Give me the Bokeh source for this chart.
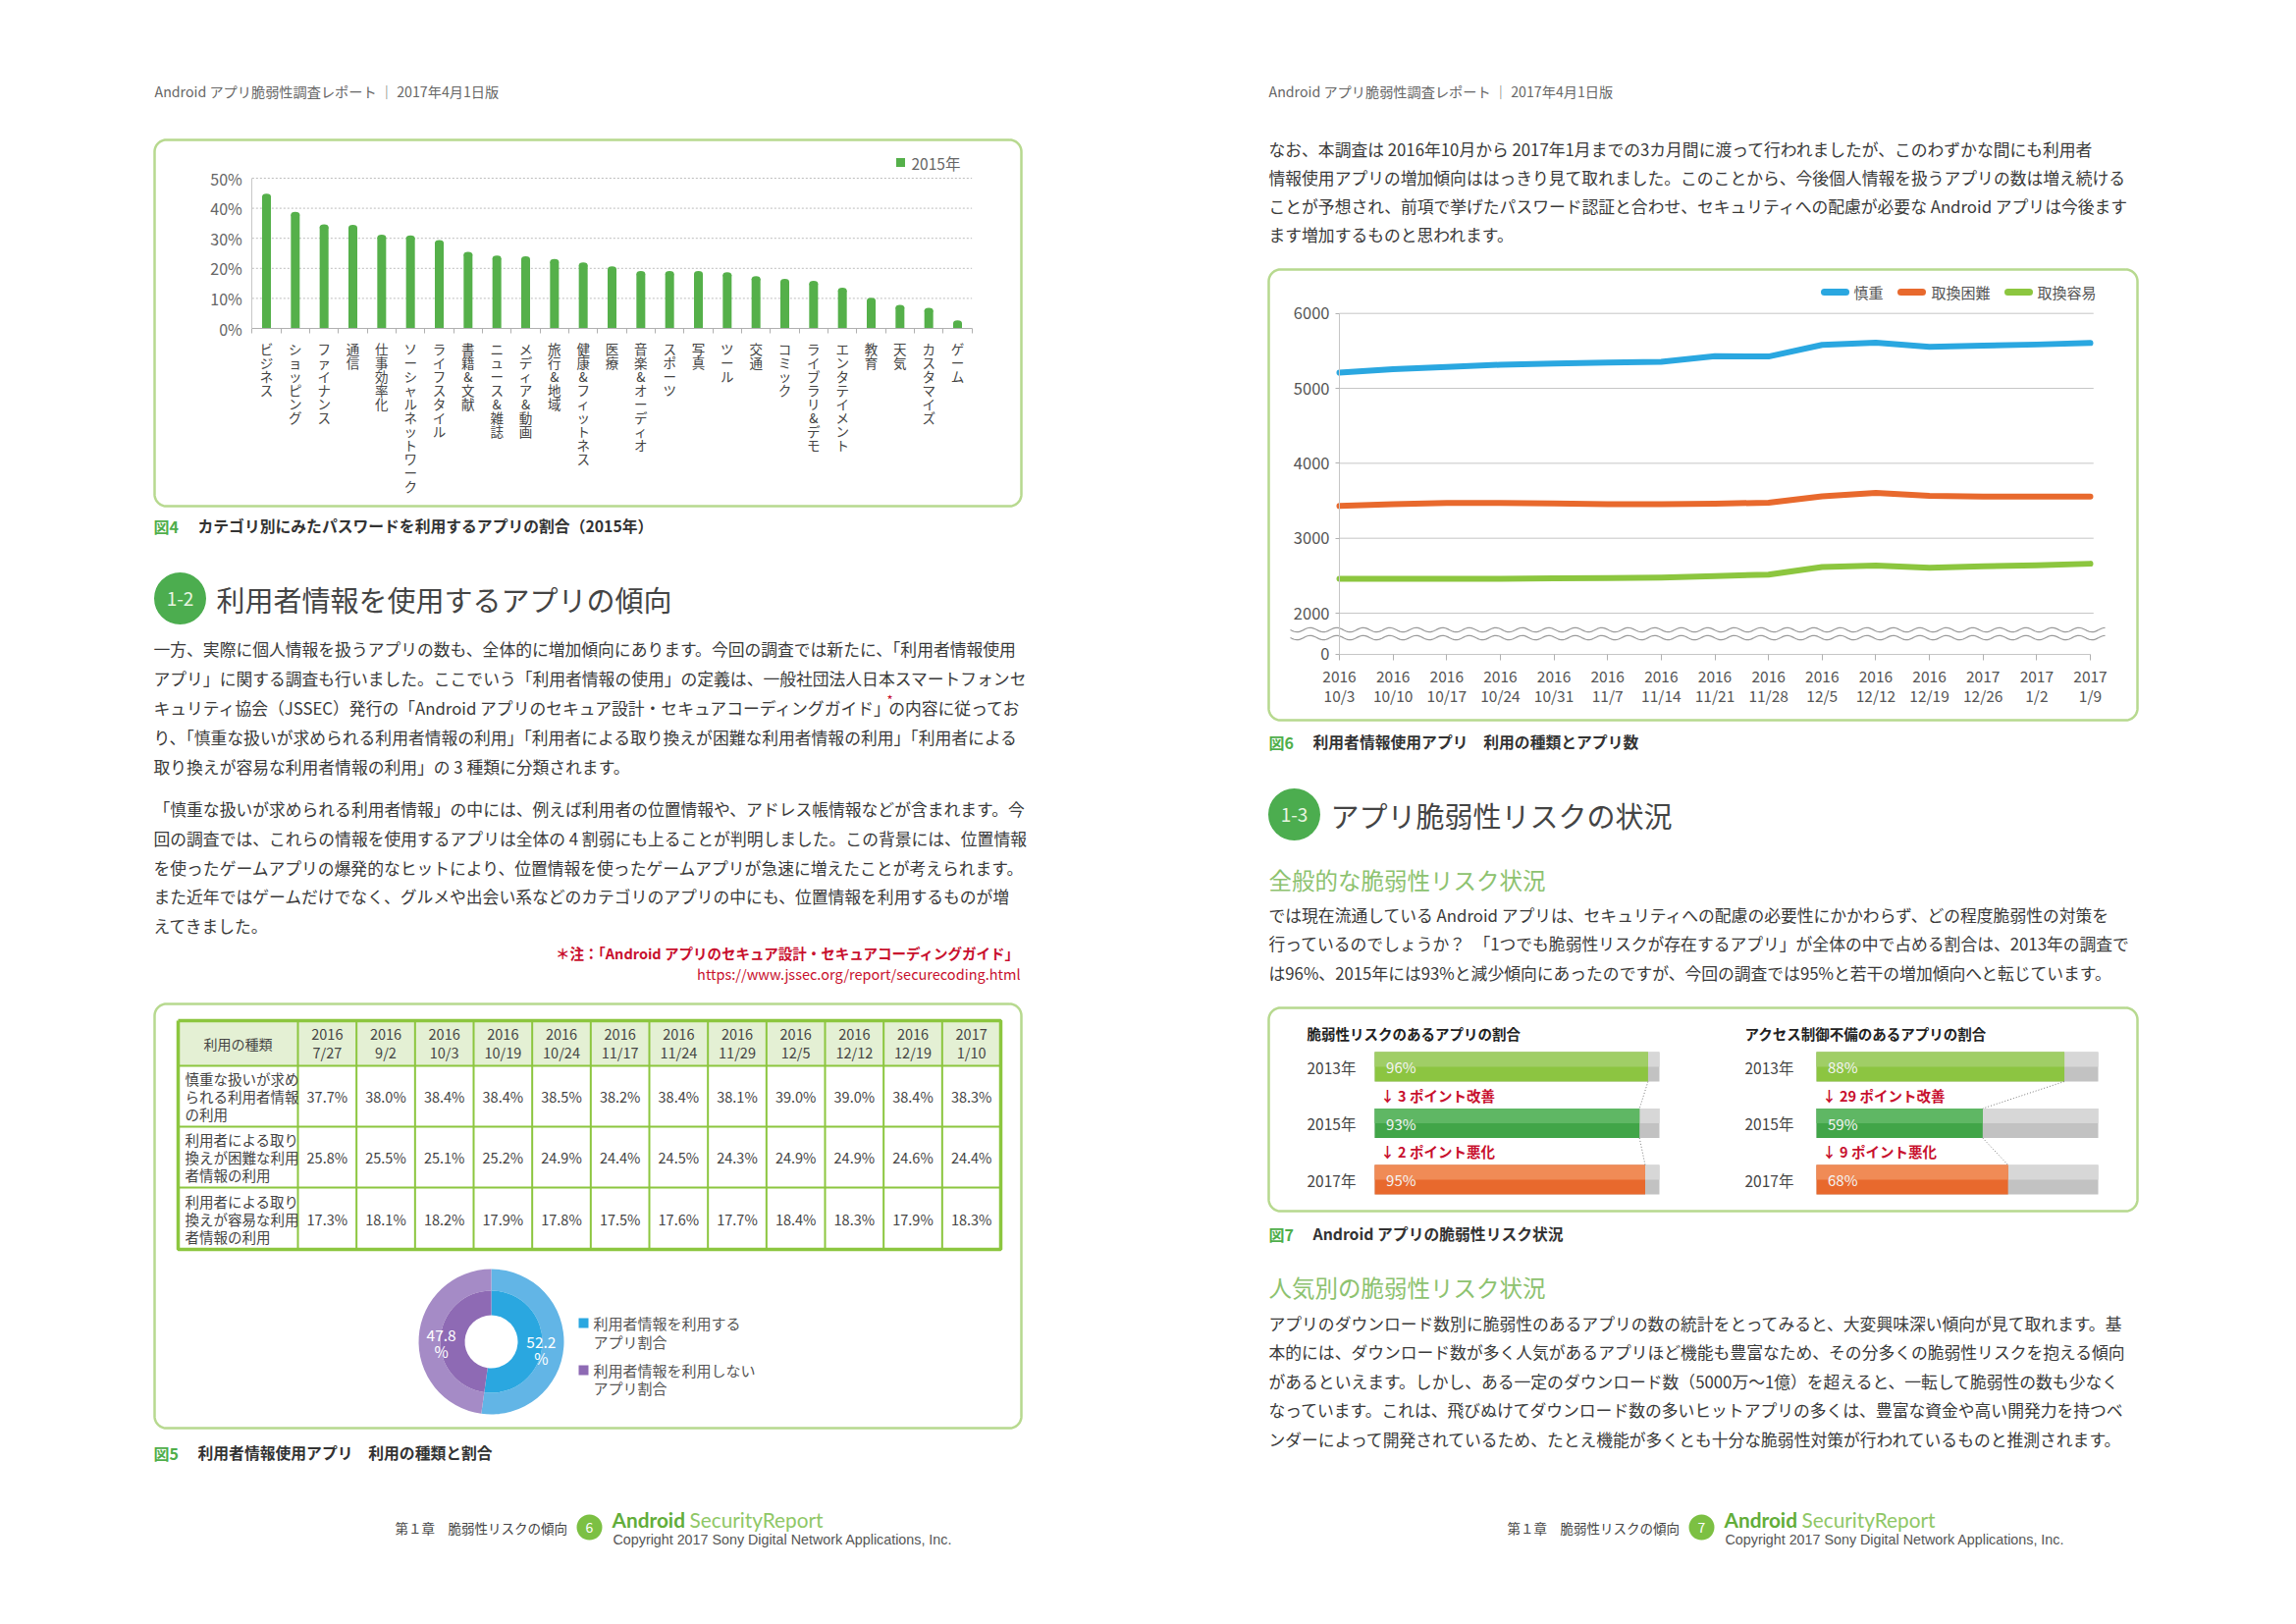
import numpy as np
from bokeh.plotting import figure
from bokeh.models import Range1d, LinearAxis, FixedTicker
from bokeh.core.properties import value
from bokeh.embed import file_html
from bokeh.resources import INLINE

# ---------------- data ----------------
categories = ["ビジネス", "ショッピング", "ファイナンス", "通信", "仕事効率化",
              "ソーシャルネットワーク", "ライフスタイル", "書籍&文献", "ニュース&雑誌",
              "メディア&動画", "旅行&地域", "健康&フィットネス", "医療", "音楽&オーディオ",
              "スポーツ", "写真", "ツール", "交通", "コミック", "ライブラリ&デモ",
              "エンタテイメント", "教育", "天気", "カスタマイズ", "ゲーム"]
password_2015 = [43.9, 37.8, 33.7, 33.5, 30.2, 30.0, 28.4, 24.5, 23.3, 23.0, 22.1, 21.0,
                 19.7, 18.1, 18.1, 18.1, 17.7, 16.4, 15.5, 14.9, 12.6, 9.2, 6.9, 5.9, 1.7]
bar_ticks = [0, 10, 20, 30, 40, 50]

week_years = ["2016"] * 12 + ["2017"] * 3
week_dates = ["10/3", "10/10", "10/17", "10/24", "10/31", "11/7", "11/14", "11/21",
              "11/28", "12/5", "12/12", "12/19", "12/26", "1/2", "1/9"]
apps_sensitive = [5210, 5255, 5285, 5315, 5330, 5345, 5355, 5430, 5425, 5580, 5610, 5555, 5570, 5585, 5605]
apps_hard = [3430, 3455, 3470, 3470, 3465, 3455, 3455, 3460, 3475, 3560, 3605, 3565, 3555, 3555, 3555]
apps_easy = [2460, 2460, 2460, 2460, 2465, 2470, 2475, 2495, 2515, 2615, 2635, 2605, 2625, 2640, 2660]
line_ticks = [2000, 3000, 4000, 5000, 6000]
line_names = ["慎重", "取換困難", "取換容易"]

table_years = ["2016"] * 11 + ["2017"]
table_dates = ["7/27", "9/2", "10/3", "10/19", "10/24", "11/17", "11/24", "11/29", "12/5", "12/12", "12/19", "1/10"]
table_rows = [["慎重な扱いが求め", "られる利用者情報", "の利用"],
              ["利用者による取り", "換えが困難な利用", "者情報の利用"],
              ["利用者による取り", "換えが容易な利用", "者情報の利用"]]
share_sensitive = [37.7, 38.0, 38.4, 38.4, 38.5, 38.2, 38.4, 38.1, 39.0, 39.0, 38.4, 38.3]
share_hard = [25.8, 25.5, 25.1, 25.2, 24.9, 24.4, 24.5, 24.3, 24.9, 24.9, 24.6, 24.4]
share_easy = [17.3, 18.1, 18.2, 17.9, 17.8, 17.5, 17.6, 17.7, 18.4, 18.3, 17.9, 18.3]

donut_labels = [["利用者情報を利用する", "アプリ割合"], ["利用者情報を利用しない", "アプリ割合"]]
donut_values = [52.2, 47.8]

risk_years = ["2013年", "2015年", "2017年"]
risk_vuln = [96, 93, 95]
risk_access = [88, 59, 68]

# ---------------- styles ----------------
JP = "Noto Sans CJK JP"
INK = "#3a3a3a"
BOX = "#b7d98f"
GREEN = "#4fae4a"
LGREEN = "#8dc26f"
RED = "#c8102e"
BLUE = "#2aa7e0"
ORANGE = "#e8692d"
LIME = "#8cc63f"

W, H = 2323, 1638
OX, OY = 2, 2
p = figure(width=W, height=H, output_backend="svg", toolbar_location=None,
           x_range=Range1d(OX, OX + W), y_range=Range1d(OY + H, OY),
           x_axis_location=None, y_axis_location=None, min_border=0)
p.grid.visible = False
p.outline_line_color = None
p.background_fill_color = "white"
p.border_fill_color = "white"


def xr(v0, v1, X0, X1):
    k = (v1 - v0) / (X1 - X0)
    return Range1d(start=v0 + (OX - X0) * k, end=v0 + (OX + W - X0) * k)


def yr(v0, v1, Y0, Y1):
    k = (v1 - v0) / (Y1 - Y0)
    return Range1d(start=v0 + (OY + H - Y0) * k, end=v0 + (OY - Y0) * k)


def T(x, y, text, size=16.8, color=INK, align="left", baseline="middle", bold=False, font=JP, **kw):
    if isinstance(text, str):
        x, y, text = [x], [y], [text]
    else:
        n = len(text)
        x = list(x) if isinstance(x, (list, tuple, np.ndarray)) else [x] * n
        y = list(y) if isinstance(y, (list, tuple, np.ndarray)) else [y] * n
    p.text(x=x, y=y, text=list(text), text_font=value(font), text_font_size=f"{size}px",
           text_color=color, text_align=align, text_baseline=baseline,
           text_font_style="bold" if bold else "normal", **kw)


def rbox(x0, y0, x1, y1, r=12, color=BOX, lw=2.5):
    t = np.linspace(0, np.pi / 2, 14)
    xs, ys = [], []
    for cx, cy, a0 in [(x1 - r, y0 + r, -np.pi / 2), (x1 - r, y1 - r, 0.0),
                       (x0 + r, y1 - r, np.pi / 2), (x0 + r, y0 + r, np.pi)]:
        a = a0 + t
        xs += list(cx + r * np.cos(a))
        ys += list(cy + r * np.sin(a))
    xs.append(xs[0])
    ys.append(ys[0])
    p.line(xs, ys, line_color=color, line_width=lw)


def caption(x, y, num, text, tx):
    T(x, y, num, 16, GREEN, bold=True)
    T(tx, y, text, 15.8, "#333333", bold=True)


def section(cx, cy, num, title, tx):
    p.scatter(x=[cx], y=[cy], size=53, marker="circle", fill_color="#4cad4f", line_color=None)
    T(cx, cy, num, 19, "#e8f5e0", align="center")
    T(tx, cy, title, 29, "#444444")


def paragraph(x, ys, lines, size=16.8):
    T(x, ys, lines, size, INK)


p.extra_x_ranges = {
    "barx": xr(0, len(categories) - 1, 273, 977),
    "linex": xr(0, len(week_dates) - 1, 1366, 2131),
    "riskL": xr(0, 100, 1402, 1692),
    "riskR": xr(0, 100, 1852, 2139),
}
ZERO_AT = 1454
p.extra_y_ranges = {
    "bary": yr(0, 50, 336, 183),
    "liney": yr(2000, 6000, 626, 320.7),
    "risky": yr(0, 2, 1088, 1203),
    "donuty": yr(0, 100, 1368, 1268),
}

# ================= LEFT PAGE =================
T(159, 94, "Android アプリ脆弱性調査レポート ｜ 2017年4月1日版", 14.2, "#666666")

# ---- Fig 4: bar chart ----
rbox(159, 144, 1042, 517)
n = len(categories)
bx = list(range(n))
p.segment(x0=[-0.5] * 5, x1=[n - 0.5] * 5, y0=bar_ticks[1:], y1=bar_ticks[1:],
          x_range_name="barx", y_range_name="bary", line_color="#bdbdbd", line_dash="2 2", line_width=1)
bw = 9 / 29.3
p.vbar(x=bx, top=password_2015, bottom=0, width=bw, fill_color="#55b04a", line_color=None,
       x_range_name="barx", y_range_name="bary")
p.ellipse(x=bx, y=password_2015, width=9, height=6, width_units="screen", height_units="screen",
          fill_color="#55b04a", line_color=None, x_range_name="barx", y_range_name="bary")
ax = LinearAxis(x_range_name="barx", y_range_name="bary", fixed_location=0, bounds=(-0.5, n - 0.5),
                ticker=FixedTicker(ticks=bx, minor_ticks=[i - 0.5 for i in range(n + 1)]),
                major_label_overrides={i: "\n".join(c) for i, c in enumerate(categories)},
                axis_line_color="#b0b0b0", major_tick_line_color=None, major_tick_out=0, major_tick_in=0,
                minor_tick_line_color="#b0b0b0", minor_tick_out=5, minor_tick_in=0,
                major_label_standoff=5, major_label_text_font=JP, major_label_text_font_size="13.5px",
                major_label_text_color="#444444", major_label_text_line_height=0.7)
p.add_layout(ax, "below")
ay = LinearAxis(x_range_name="barx", y_range_name="bary", fixed_location=-0.5, bounds=(0, 50),
                ticker=FixedTicker(ticks=bar_ticks),
                major_label_overrides={t: f"{t}%" for t in bar_ticks},
                axis_line_color="#c8c8c8", major_tick_line_color=None, major_tick_out=0, major_tick_in=0,
                minor_tick_line_color=None, major_label_standoff=10, major_label_text_font=JP,
                major_label_text_font_size="16px", major_label_text_color="#666666")
p.add_layout(ay, "left")
p.scatter(x=[919], y=[167], size=9, marker="square", fill_color="#55b04a", line_color=None)
T(930, 167, "2015年", 15.5, "#666666")
caption(158, 537, "図4", "カテゴリ別にみたパスワードを利用するアプリの割合（2015年）", 203)

# ---- section 1-2 ----
section(185, 611, "1-2", "利用者情報を使用するアプリの傾向", 222)
paragraph(158, [662, 692, 722, 752, 782], [
    "一方、実際に個人情報を扱うアプリの数も、全体的に増加傾向にあります。今回の調査では新たに、「利用者情報使用",
    "アプリ」に関する調査も行いました。ここでいう「利用者情報の使用」の定義は、一般社団法人日本スマートフォンセ",
    "キュリティ協会（JSSEC）発行の「Android アプリのセキュア設計・セキュアコーディングガイド」",
    "り、「慎重な扱いが求められる利用者情報の利用」「利用者による取り換えが困難な利用者情報の利用」「利用者による",
    "取り換えが容易な利用者情報の利用」の 3 種類に分類されます。"])
T(905, 714, "*", 13, RED)
T(1041, 722, "の内容に従ってお", 16.8, INK, align="right")
paragraph(158, [825, 855, 885, 914, 944], [
    "「慎重な扱いが求められる利用者情報」の中には、例えば利用者の位置情報や、アドレス帳情報などが含まれます。今",
    "回の調査では、これらの情報を使用するアプリは全体の 4 割弱にも上ることが判明しました。この背景には、位置情報",
    "を使ったゲームアプリの爆発的なヒットにより、位置情報を使ったゲームアプリが急速に増えたことが考えられます。",
    "また近年ではゲームだけでなく、グルメや出会い系などのカテゴリのアプリの中にも、位置情報を利用するものが増",
    "えてきました。"])
T(1041, 972, "＊注：「Android アプリのセキュア設計・セキュアコーディングガイド」", 14.5, RED, align="right", bold=True)
T(1041, 993, "https://www.jssec.org/report/securecoding.html", 14.5, RED, align="right")

# ---- Fig 5: table + donut ----
rbox(159, 1024, 1042, 1456)
TX0, TC1, TX1 = 183, 305, 1021
TY = [1041, 1087, 1149, 1211, 1274]
nc = len(table_dates)
cw = (TX1 - TC1) / nc
p.quad(left=[TX0], right=[TX1], top=[TY[0]], bottom=[TY[1]], fill_color="#e4f0d4", line_color=None)
vx = [TC1 + cw * k for k in range(nc)]
p.segment(x0=vx, x1=vx, y0=[TY[0]] * nc, y1=[TY[-1]] * nc, line_color=LIME, line_width=2)
p.segment(x0=[TX0] * 3, x1=[TX1] * 3, y0=TY[1:4], y1=TY[1:4], line_color=LIME, line_width=2)
p.line([TX0, TX1, TX1, TX0, TX0], [TY[0], TY[0], TY[-1], TY[-1], TY[0]], line_color=LIME, line_width=3.5)
centers = [TC1 + cw * (k + 0.5) for k in range(nc)]
T((TX0 + TC1) / 2, 1064, "利用の種類", 14, "#444444", align="center")
T(centers, 1055, table_years, 14.5, "#444444", align="center")
T(centers, 1073, table_dates, 14.5, "#444444", align="center")
for r, vals in enumerate([share_sensitive, share_hard, share_easy]):
    cy = (TY[r + 1] + TY[r + 2]) / 2
    T(190, [cy - 18, cy, cy + 18], table_rows[r], 14.5, "#444444")
    T(centers, cy, [f"{v:.1f}%" for v in vals], 14.5, "#444444", align="center")

frac = np.array(donut_values) / sum(donut_values)
ends = np.pi / 2 - 2 * np.pi * np.cumsum(frac)
starts = np.concatenate([[np.pi / 2], ends[:-1]])
DCX = 502
p.annular_wedge(x=[DCX] * 2, y=[0, 0], inner_radius=52, outer_radius=74,
                inner_radius_units="screen", outer_radius_units="screen",
                start_angle=list(starts), end_angle=list(ends), direction="clock",
                fill_color=["#62b5e6", "#a58bc6"], line_color=None, y_range_name="donuty")
p.annular_wedge(x=[DCX] * 2, y=[0, 0], inner_radius=27, outer_radius=52,
                inner_radius_units="screen", outer_radius_units="screen",
                start_angle=list(starts), end_angle=list(ends), direction="clock",
                fill_color=["#2aa7e0", "#8e6ab4"], line_color=None, y_range_name="donuty")
mids = (starts + ends) / 2
lx = list(DCX + 51 * np.cos(mids))
ly = 51 * np.sin(mids)
T(lx, list(ly + 3), [f"{v}" for v in donut_values], 15.5, "white", align="center", y_range_name="donuty")
T(lx, list(ly - 13), ["%"] * 2, 15.5, "white", align="center", y_range_name="donuty")
p.scatter(x=[596, 596], y=[1349, 1397], size=10, marker="square",
          fill_color=["#2aa7e0", "#8e6ab4"], line_color=None)
T(606, [1349, 1368, 1397, 1415], [donut_labels[0][0], donut_labels[0][1], donut_labels[1][0], donut_labels[1][1]],
  15, "#555555")
caption(158, 1481, "図5", "利用者情報使用アプリ　利用の種類と割合", 203)

# ---- footer left ----
T(404, 1557, "第１章　脆弱性リスクの傾向", 13.5, "#444444")
p.scatter(x=[602], y=[1557], size=26, marker="circle", fill_color="#7cc043", line_color=None)
T(602, 1557, "6", 14, "white", align="center")
T(625, 1549, "Android", 20.8, "#62ad3a", bold=True, font="Lato")
T(704, 1549, "SecurityReport", 20.8, "#8fc766", font="Lato")
T(626, 1569, "Copyright 2017 Sony Digital Network Applications, Inc.", 14.3, "#555555", font="Liberation Sans")

# ================= RIGHT PAGE =================
T(1294, 94, "Android アプリ脆弱性調査レポート ｜ 2017年4月1日版", 14.2, "#666666")
paragraph(1294, [153, 182, 211, 240], [
    "なお、本調査は 2016年10月から 2017年1月までの3カ月間に渡って行われましたが、このわずかな間にも利用者",
    "情報使用アプリの増加傾向ははっきり見て取れました。このことから、今後個人情報を扱うアプリの数は増え続ける",
    "ことが予想され、前項で挙げたパスワード認証と合わせ、セキュリティへの配慮が必要な Android アプリは今後ます",
    "ます増加するものと思われます。"])

# ---- Fig 6: line chart ----
rbox(1294, 276, 2179, 735)
nl = len(week_dates)
lxs = list(range(nl))
p.segment(x0=[0] * 5, x1=[nl - 1 + 0.06] * 5, y0=line_ticks, y1=line_ticks,
          x_range_name="linex", y_range_name="liney", line_color="#c6c6c6", line_width=1)
for series, col in zip([apps_sensitive, apps_hard, apps_easy], [BLUE, ORANGE, LIME]):
    p.line(lxs, series, line_color=col, line_width=6, line_join="round", line_cap="round",
           x_range_name="linex", y_range_name="liney")
lya = LinearAxis(x_range_name="linex", y_range_name="liney", fixed_location=0, bounds=(ZERO_AT, 6000),
                 ticker=FixedTicker(ticks=[ZERO_AT] + line_ticks),
                 major_label_overrides={**{ZERO_AT: "0"}, **{t: str(t) for t in line_ticks}},
                 axis_line_color="#c6c6c6", major_tick_line_color="#b0b0b0", major_tick_out=4, major_tick_in=0,
                 minor_tick_line_color=None, major_label_standoff=6, major_label_text_font=JP,
                 major_label_text_font_size="16.5px", major_label_text_color="#555555")
p.add_layout(lya, "left")
lxa = LinearAxis(x_range_name="linex", y_range_name="liney", fixed_location=ZERO_AT, bounds=(0, nl - 1),
                 ticker=FixedTicker(ticks=lxs),
                 major_label_overrides={i: f"{y}\n{d}" for i, (y, d) in enumerate(zip(week_years, week_dates))},
                 axis_line_color="#c6c6c6", major_tick_line_color="#b0b0b0", major_tick_out=6, major_tick_in=0,
                 minor_tick_line_color=None, major_label_standoff=5, major_label_text_font=JP,
                 major_label_text_font_size="15.5px", major_label_text_color="#555555",
                 major_label_text_line_height=0.92)
p.add_layout(lxa, "below")
wx = np.linspace(1316, 2146, 500)
for wy in (643, 651):
    p.line(list(wx), list(wy + 2.2 * np.sin(2 * np.pi * (wx - 1316) / 27)), line_color="#9a9a9a", line_width=1.2)
p.segment(x0=[1860, 1938, 2047], x1=[1882, 1960, 2069], y0=[299] * 3, y1=[299] * 3,
          line_color=[BLUE, ORANGE, LIME], line_width=7, line_cap="round")
T([1890, 1969, 2077], 299, line_names, 15, "#555555")
caption(1294, 757, "図6", "利用者情報使用アプリ　利用の種類とアプリ数", 1339)

# ---- section 1-3 ----
section(1320, 831, "1-3", "アプリ脆弱性リスクの状況", 1357)
T(1294, 897, "全般的な脆弱性リスク状況", 23.5, LGREEN)
paragraph(1294, [933, 962, 992], [
    "では現在流通している Android アプリは、セキュリティへの配慮の必要性にかかわらず、どの程度脆弱性の対策を",
    "行っているのでしょうか？　「1つでも脆弱性リスクが存在するアプリ」が全体の中で占める割合は、2013年の調査で",
    "は96%、2015年には93%と減少傾向にあったのですが、今回の調査では95%と若干の増加傾向へと転じています。"])

# ---- Fig 7: risk bars ----
rbox(1294, 1028, 2179, 1235)
bh = 30 / 57.5
yi = [0, 1, 2]
tops = ["#a0ce66", "#5fb764", "#f08b56"]
bots = ["#8cc541", "#41a548", "#e8692d"]
for rn, vals, title, tx in [("riskL", risk_vuln, "脆弱性リスクのあるアプリの割合", 1333),
                            ("riskR", risk_access, "アクセス制御不備のあるアプリの割合", 1779)]:
    T(tx, 1054, title, 14.5, "#222222", bold=True)
    T(tx, yi, risk_years, 15.5, "#444444", y_range_name="risky")
    kw = dict(x_range_name=rn, y_range_name="risky", line_color=None)
    p.hbar(y=yi, left=0, right=100, height=bh, fill_color="#c2c2c2", **kw)
    p.hbar(y=[i - bh / 4 for i in yi], left=0, right=100, height=bh / 2, fill_color="#d7d7d7", **kw)
    p.hbar(y=yi, left=0, right=vals, height=bh, fill_color=bots, **kw)
    p.hbar(y=[i - bh / 4 for i in yi], left=0, right=vals, height=bh / 2, fill_color=tops, **kw)
    T([4] * 3, yi, [f"{v}%" for v in vals], 15, "#f4f4f4", x_range_name=rn, y_range_name="risky")
    p.segment(x0=vals[:-1], y0=[i + bh / 2 for i in yi[:-1]], x1=vals[1:], y1=[i + 1 - bh / 2 for i in yi[:-1]],
              line_color="#7a7a7a", line_width=1, line_dash="1 2", x_range_name=rn, y_range_name="risky")
    notes = []
    for k in range(2):
        d = vals[k + 1] - vals[k]
        notes.append(f"↓ {abs(d)} ポイント{'改善' if d < 0 else '悪化'}")
    T([2] * 2, [0.5, 1.5], notes, 14.5, RED, bold=True, x_range_name=rn, y_range_name="risky")
caption(1294, 1258, "図7", "Android アプリの脆弱性リスク状況", 1339)

T(1294, 1312, "人気別の脆弱性リスク状況", 23.5, LGREEN)
paragraph(1294, [1349, 1378, 1408, 1437, 1467], [
    "アプリのダウンロード数別に脆弱性のあるアプリの数の統計をとってみると、大変興味深い傾向が見て取れます。基",
    "本的には、ダウンロード数が多く人気があるアプリほど機能も豊富なため、その分多くの脆弱性リスクを抱える傾向",
    "があるといえます。しかし、ある一定のダウンロード数（5000万～1億）を超えると、一転して脆弱性の数も少なく",
    "なっています。これは、飛びぬけてダウンロード数の多いヒットアプリの多くは、豊富な資金や高い開発力を持つベ",
    "ンダーによって開発されているため、たとえ機能が多くとも十分な脆弱性対策が行われているものと推測されます。"])

# ---- footer right ----
T(1537, 1557, "第１章　脆弱性リスクの傾向", 13.5, "#444444")
p.scatter(x=[1735], y=[1557], size=26, marker="circle", fill_color="#7cc043", line_color=None)
T(1735, 1557, "7", 14, "white", align="center")
T(1758, 1549, "Android", 20.8, "#62ad3a", bold=True, font="Lato")
T(1837, 1549, "SecurityReport", 20.8, "#8fc766", font="Lato")
T(1759, 1569, "Copyright 2017 Sony Digital Network Applications, Inc.", 14.3, "#555555", font="Liberation Sans")

open("out.html", "w").write(file_html(p, INLINE))
